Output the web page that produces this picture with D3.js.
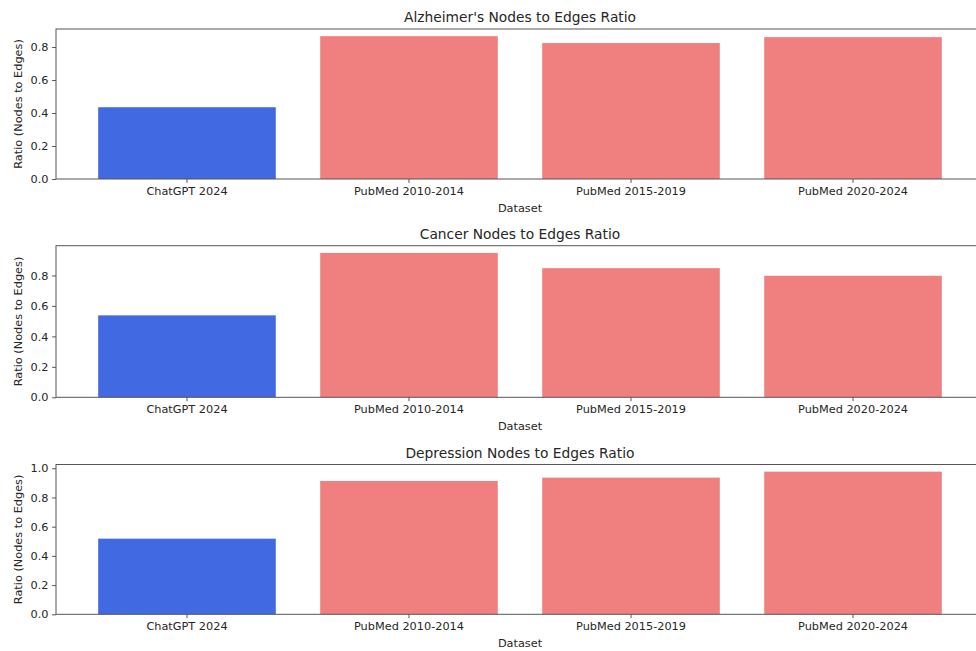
<!DOCTYPE html>
<html>
<head>
<meta charset="utf-8">
<script src="https://cdn.jsdelivr.net/npm/d3@7"></script>
<style>
  html, body { margin: 0; padding: 0; background: #fff; overflow: hidden; }
  svg { display: block; }
  text { font-family: "DejaVu Sans", sans-serif; fill: #262626; }
</style>
</head>
<body>
<svg id="chart" width="976" height="651"></svg>
<script>
const categories = ["ChatGPT 2024", "PubMed 2010-2014", "PubMed 2015-2019", "PubMed 2020-2024"];
const titles = ["Alzheimer's Nodes to Edges Ratio", "Cancer Nodes to Edges Ratio", "Depression Nodes to Edges Ratio"];
const alzheimerValues = [0.435, 0.866, 0.824, 0.860];
const cancerValues = [0.538, 0.948, 0.848, 0.798];
const depressionValues = [0.518, 0.913, 0.936, 0.977];
const seriesValues = [alzheimerValues, cancerValues, depressionValues];
const yTicks1 = [0.0, 0.2, 0.4, 0.6, 0.8];
const yTicks2 = [0.0, 0.2, 0.4, 0.6, 0.8];
const yTicks3 = [0.0, 0.2, 0.4, 0.6, 0.8, 1.0];
const yTickSets = [yTicks1, yTicks2, yTicks3];
const barColors = ["royalblue", "lightcoral", "lightcoral", "lightcoral"];
const xLabel = "Dataset";
const yLabel = "Ratio (Nodes to Edges)";

const svg = d3.select("#chart");
const left = 56, right = 984;
const panels = [
  {top: 29, bottom: 179},
  {top: 245.7, bottom: 397.3},
  {top: 464.5, bottom: 614.3}
];
const spine = "#555";
const tickFont = "11.3px";

const x = d3.scaleBand().domain(categories).range([left, right])
  .paddingInner(0.2).paddingOuter(0.19);

panels.forEach((p, i) => {
  const vals = seriesValues[i];
  const y = d3.scaleLinear().domain([0, d3.max(vals) * 1.05]).range([p.bottom, p.top]);
  const g = svg.append("g");

  g.selectAll("rect.bar").data(vals).enter().append("rect")
    .attr("class", "bar")
    .attr("x", (d, j) => x(categories[j]))
    .attr("width", x.bandwidth())
    .attr("y", d => y(d))
    .attr("height", d => y(0) - y(d))
    .attr("fill", (d, j) => barColors[j]);

  // frame
  g.append("rect").attr("x", left).attr("y", p.top)
    .attr("width", right - left).attr("height", p.bottom - p.top)
    .attr("fill", "none").attr("stroke", spine).attr("stroke-width", 1);

  // x axis
  const xa = g.append("g").attr("transform", `translate(0,${p.bottom})`)
    .call(d3.axisBottom(x).tickSizeOuter(0).tickSize(3.9).tickPadding(3.6));
  xa.select(".domain").remove();
  xa.selectAll("line").attr("stroke", spine);
  xa.selectAll("text").style("font-size", tickFont).attr("fill", "#262626");

  // y axis
  const ya = g.append("g").attr("transform", `translate(${left},0)`)
    .call(d3.axisLeft(y).tickValues(yTickSets[i]).tickFormat(d3.format(".1f"))
      .tickSizeOuter(0).tickSize(3.9).tickPadding(3.6));
  ya.select(".domain").remove();
  ya.selectAll("line").attr("stroke", spine);
  ya.selectAll("text").style("font-size", tickFont).attr("fill", "#262626");

  // title
  g.append("text").attr("x", (left + right) / 2).attr("y", p.top - 6.8)
    .attr("text-anchor", "middle").style("font-size", "13.8px").text(titles[i]);

  // x label
  g.append("text").attr("x", (left + right) / 2).attr("y", p.bottom + 32.5)
    .attr("text-anchor", "middle").style("font-size", tickFont).text(xLabel);

  // y label
  g.append("text")
    .attr("transform", `translate(21.5,${(p.top + p.bottom) / 2}) rotate(-90)`)
    .attr("text-anchor", "middle").style("font-size", tickFont).text(yLabel);
});
</script>
</body>
</html>
